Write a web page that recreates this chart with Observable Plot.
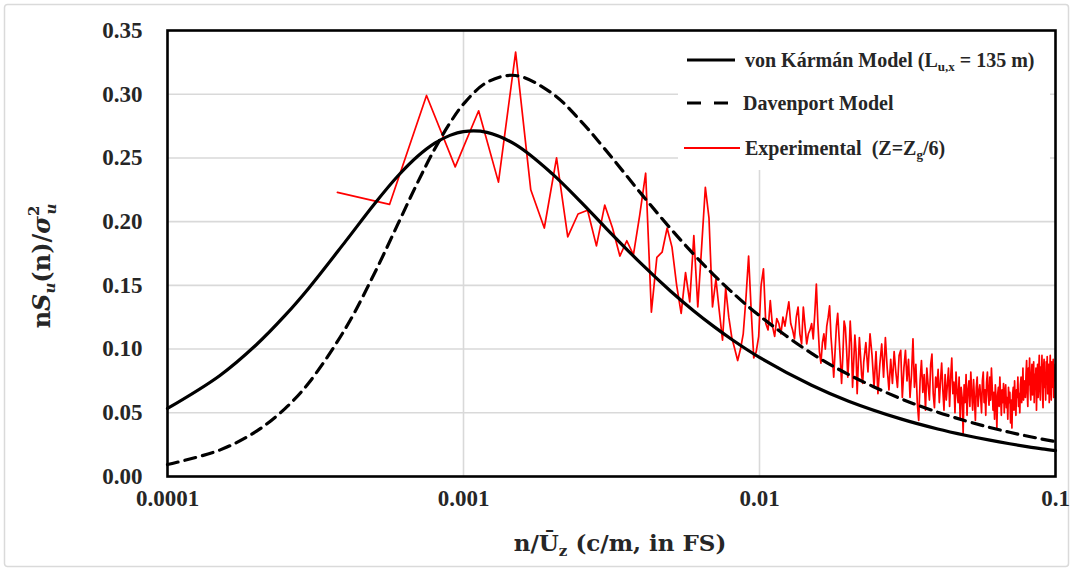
<!DOCTYPE html>
<html>
<head>
<meta charset="utf-8">
<script src="https://cdn.jsdelivr.net/npm/d3@7"></script>
<script src="https://cdn.jsdelivr.net/npm/@observablehq/plot@0.6"></script>
<style>
  body { margin: 0; background: #fff; }
  #chart { width: 1073px; height: 571px; position: relative; }
</style>
</head>
<body>
<div id="chart"></div>
<script>
// ---------- axis ticks ----------
const xTicks = [0.0001, 0.001, 0.01, 0.1];
const xTickLabels = ["0.0001", "0.001", "0.01", "0.1"];
const yTicks = [0, 0.05, 0.10, 0.15, 0.20, 0.25, 0.30, 0.35];
const yGrid = [0.05, 0.10, 0.15, 0.20, 0.25, 0.30];
const xGrid = [0.001, 0.01];

// ---------- model curves ----------
const modelFreq = [0.0001, 0.00015, 0.0002, 0.00025, 0.0003, 0.0004, 0.0005, 0.0006, 0.0007, 0.0008,
  0.0009, 0.001, 0.0012, 0.0015, 0.002, 0.0025, 0.003, 0.004, 0.005, 0.006,
  0.007, 0.008, 0.01, 0.015, 0.02, 0.03, 0.04, 0.05, 0.06, 0.07,
  0.08, 0.09, 0.1];
const vonKarman = [0.0534, 0.0791, 0.1036, 0.1266, 0.1478, 0.1847, 0.2139, 0.2358, 0.2513, 0.2616,
  0.2677, 0.2707, 0.2701, 0.2604, 0.2373, 0.2151, 0.1959, 0.1666, 0.1456, 0.1299,
  0.1178, 0.1081, 0.0935, 0.0716, 0.0591, 0.0452, 0.0373, 0.0322, 0.0285, 0.0257,
  0.0235, 0.0217, 0.0203];
const davenport = [0.0094, 0.0207, 0.0356, 0.0535, 0.0734, 0.1165, 0.1593, 0.1980, 0.2308, 0.2572,
  0.2774, 0.2923, 0.3093, 0.3147, 0.3004, 0.2785, 0.2571, 0.2214, 0.1947, 0.1743,
  0.1583, 0.1455, 0.1261, 0.0966, 0.0800, 0.0611, 0.0505, 0.0435, 0.0385, 0.0347,
  0.0318, 0.0294, 0.0274];

// ---------- experimental spectrum (frequency bins of width binWidth) ----------
const binWidth = 0.0001875;
const expLowStartBin = 2;      // bins 2..120, every bin
const expLow = [
  0.223, 0.2135, 0.299, 0.243, 0.287, 0.231, 0.333, 0.225, 0.195, 0.250,
  0.188, 0.206, 0.209, 0.181, 0.213, 0.195, 0.173, 0.185, 0.174, 0.205,
  0.238, 0.129, 0.172, 0.176, 0.195, 0.180, 0.150, 0.128, 0.160, 0.137,
  0.189, 0.133, 0.180, 0.227, 0.203, 0.133, 0.155, 0.130, 0.107, 0.148,
  0.125, 0.109, 0.100, 0.091, 0.100, 0.112, 0.140, 0.173, 0.130, 0.093,
  0.098, 0.110, 0.150, 0.163, 0.120, 0.115, 0.138, 0.118, 0.110, 0.124,
  0.120, 0.112, 0.125, 0.118, 0.128, 0.137, 0.120, 0.115, 0.108, 0.125,
  0.133, 0.112, 0.104, 0.133, 0.118, 0.104, 0.112, 0.115, 0.120, 0.108,
  0.128, 0.151, 0.120, 0.098, 0.089, 0.105, 0.112, 0.100, 0.118, 0.125,
  0.134, 0.110, 0.095, 0.078, 0.098, 0.118, 0.128, 0.110, 0.092, 0.073,
  0.095, 0.122, 0.117, 0.100, 0.078, 0.095, 0.122, 0.105, 0.070, 0.090,
  0.111, 0.098, 0.065, 0.088, 0.109, 0.095, 0.080, 0.073, 0.090
];
const expHighStartBin = 122;   // bins 122..532, every second bin
const expHighStep = 2;
const expHigh = [
  0.105, 0.082, 0.112, 0.095, 0.070, 0.098, 0.065, 0.088, 0.104, 0.078,
  0.109, 0.085, 0.068, 0.092, 0.073, 0.098, 0.082, 0.070, 0.095, 0.099,
  0.062, 0.085, 0.099, 0.075, 0.092, 0.062, 0.080, 0.108, 0.070, 0.088,
  0.058, 0.044, 0.075, 0.091, 0.066, 0.080, 0.052, 0.085, 0.072, 0.060,
  0.088, 0.096, 0.065, 0.054, 0.078, 0.070, 0.084, 0.058, 0.075, 0.089,
  0.068, 0.052, 0.080, 0.060, 0.072, 0.085, 0.055, 0.078, 0.093, 0.065,
  0.074, 0.050, 0.082, 0.066, 0.058, 0.078, 0.045, 0.070, 0.062, 0.034,
  0.072, 0.058, 0.080, 0.048, 0.068, 0.075, 0.055, 0.082, 0.065, 0.052,
  0.076, 0.060, 0.044, 0.070, 0.078, 0.055, 0.066, 0.072, 0.062, 0.050,
  0.075, 0.082, 0.058, 0.068, 0.048, 0.074, 0.082, 0.064, 0.056, 0.078,
  0.060, 0.085, 0.070, 0.052, 0.066, 0.045, 0.072, 0.060, 0.038, 0.064,
  0.070, 0.055, 0.078, 0.062, 0.048, 0.068, 0.058, 0.073, 0.050, 0.066,
  0.072, 0.054, 0.062, 0.045, 0.070, 0.058, 0.066, 0.042, 0.060, 0.038,
  0.064, 0.070, 0.052, 0.075, 0.058, 0.048, 0.068, 0.062, 0.078, 0.055,
  0.065, 0.050, 0.072, 0.078, 0.058, 0.066, 0.085, 0.060, 0.070, 0.075,
  0.062, 0.080, 0.091, 0.066, 0.055, 0.085, 0.072, 0.093, 0.068, 0.060,
  0.078, 0.088, 0.064, 0.072, 0.090, 0.058, 0.080, 0.070, 0.085, 0.052,
  0.075, 0.088, 0.062, 0.082, 0.095, 0.070, 0.060, 0.086, 0.078, 0.095,
  0.066, 0.054, 0.085, 0.092, 0.070, 0.080, 0.060, 0.090, 0.078, 0.094,
  0.065, 0.078, 0.088, 0.058, 0.082, 0.095, 0.072, 0.060, 0.090, 0.084,
  0.070, 0.092, 0.062, 0.085, 0.075, 0.088
];

// ---------- build tables ----------
const vkRows = modelFreq.map((f, i) => ({f, v: vonKarman[i]}));
const dvRows = modelFreq.map((f, i) => ({f, v: davenport[i]}));
const expRows = [
  ...expLow.map((v, i) => ({f: (expLowStartBin + i) * binWidth, v})),
  ...expHigh.map((v, i) => ({f: (expHighStartBin + i * expHighStep) * binWidth, v}))
];

const gridStyle = {stroke: "#d9d9d9", strokeOpacity: 1, strokeWidth: 1.6};
const tickColor = "#262626";

const chart = Plot.plot({
  width: 1073,
  height: 571,
  marginLeft: 167,
  marginRight: 18,
  marginTop: 30,
  marginBottom: 95,
  style: {
    fontFamily: '"Liberation Serif", "Times New Roman", serif',
    fontSize: "23px",
    fontWeight: "bold",
    background: "white",
    color: tickColor,
    overflow: "visible"
  },
  x: {type: "log", domain: [0.0001, 0.1]},
  y: {domain: [0, 0.35]},
  marks: [
    Plot.gridY(yGrid, gridStyle),
    Plot.gridX(xGrid, gridStyle),
    Plot.axisX(xTicks, {
      tickSize: 0, tickPadding: 13, label: null,
      tickFormat: d => xTickLabels[xTicks.indexOf(d)],
      fill: tickColor
    }),
    Plot.axisY(yTicks, {
      tickSize: 0, tickPadding: 25, label: null,
      tickFormat: d => d.toFixed(2),
      fill: tickColor
    }),
    Plot.line(expRows, {x: "f", y: "v", stroke: "#ff0000", strokeWidth: 1.7}),
    Plot.line(vkRows, {x: "f", y: "v", stroke: "black", strokeWidth: 3.2, curve: "catmull-rom"}),
    Plot.line(dvRows, {x: "f", y: "v", stroke: "black", strokeWidth: 3.2, strokeDasharray: "11,7", curve: "catmull-rom"}),
    Plot.frame({stroke: "black", strokeWidth: 2.6})
  ]
});

document.getElementById("chart").appendChild(chart);

// ---------- decorations: border, legend, axis titles ----------
const svg = d3.select(chart);

svg.insert("rect", ":first-child")
  .attr("x", 4.5).attr("y", 4.5).attr("width", 1064).attr("height", 562)
  .attr("rx", 3).attr("fill", "white").attr("stroke", "#dadada").attr("stroke-width", 1.5);

// legend
const legendLabels = [
  [["von Kármán Model (L", 0], ["u,x", 1], [" = 135 m)", 0]],
  [["Davenport Model", 0]],
  [["Experimental\u00a0 (Z=Z", 0], ["g", 1], ["/6)", 0]]
];
const legendStyles = [
  {stroke: "black", dash: null, width: 3.2, x1: 687, x2: 735, tx: 745},
  {stroke: "black", dash: "14,13", width: 3.2, x1: 687, x2: 731, tx: 743},
  {stroke: "#ff0000", dash: null, width: 2, x1: 684, x2: 740, tx: 745}
];
const legendRowY = [60, 103, 148];

const lg = svg.append("g");
lg.append("rect").attr("x", 678).attr("y", 32).attr("width", 372).attr("height", 138).attr("fill", "white");
legendLabels.forEach((parts, i) => {
  const s = legendStyles[i];
  const y = legendRowY[i];
  lg.append("line")
    .attr("x1", s.x1).attr("x2", s.x2).attr("y1", y).attr("y2", y)
    .attr("stroke", s.stroke).attr("stroke-width", s.width)
    .attr("stroke-dasharray", s.dash);
  const t = lg.append("text")
    .attr("x", s.tx).attr("y", y).attr("dy", "0.35em")
    .attr("text-anchor", "start")
    .attr("font-family", '"Liberation Serif", serif')
    .attr("font-weight", "bold").attr("font-size", 20).attr("fill", tickColor);
  parts.forEach(([txt, sub]) => {
    const ts = t.append("tspan").text(txt);
    if (sub) ts.attr("font-size", 13).attr("baseline-shift", "-30%");
  });
});

// y axis title
const yt = svg.append("text")
  .attr("transform", "translate(50,266) rotate(-90)")
  .attr("text-anchor", "middle")
  .attr("font-family", '"DejaVu Serif", serif')
  .attr("font-weight", "bold").attr("font-size", 24).attr("fill", tickColor);
yt.append("tspan").text("n");
yt.append("tspan").attr("font-style", "italic").text("S");
yt.append("tspan").attr("font-style", "italic").attr("font-size", 15).attr("dy", 5).text("u");
yt.append("tspan").attr("dy", -5).text("(n)/");
yt.append("tspan").attr("font-style", "italic").text("σ");
yt.append("tspan").attr("font-size", 15).attr("dy", -11).text("2");
yt.append("tspan").attr("font-style", "italic").attr("font-size", 15).attr("dx", -9).attr("dy", 17).text("u");

// x axis title
const xt = svg.append("text")
  .attr("x", 620).attr("y", 551)
  .attr("text-anchor", "middle")
  .attr("font-family", '"DejaVu Serif", serif')
  .attr("font-weight", "bold").attr("font-size", 23).attr("fill", tickColor);
xt.append("tspan").text("n/Ū");
xt.append("tspan").attr("font-size", 15).attr("dy", 5).text("z");
xt.append("tspan").attr("dy", -5).text(" (c/m, in FS)");
</script>
</body>
</html>
